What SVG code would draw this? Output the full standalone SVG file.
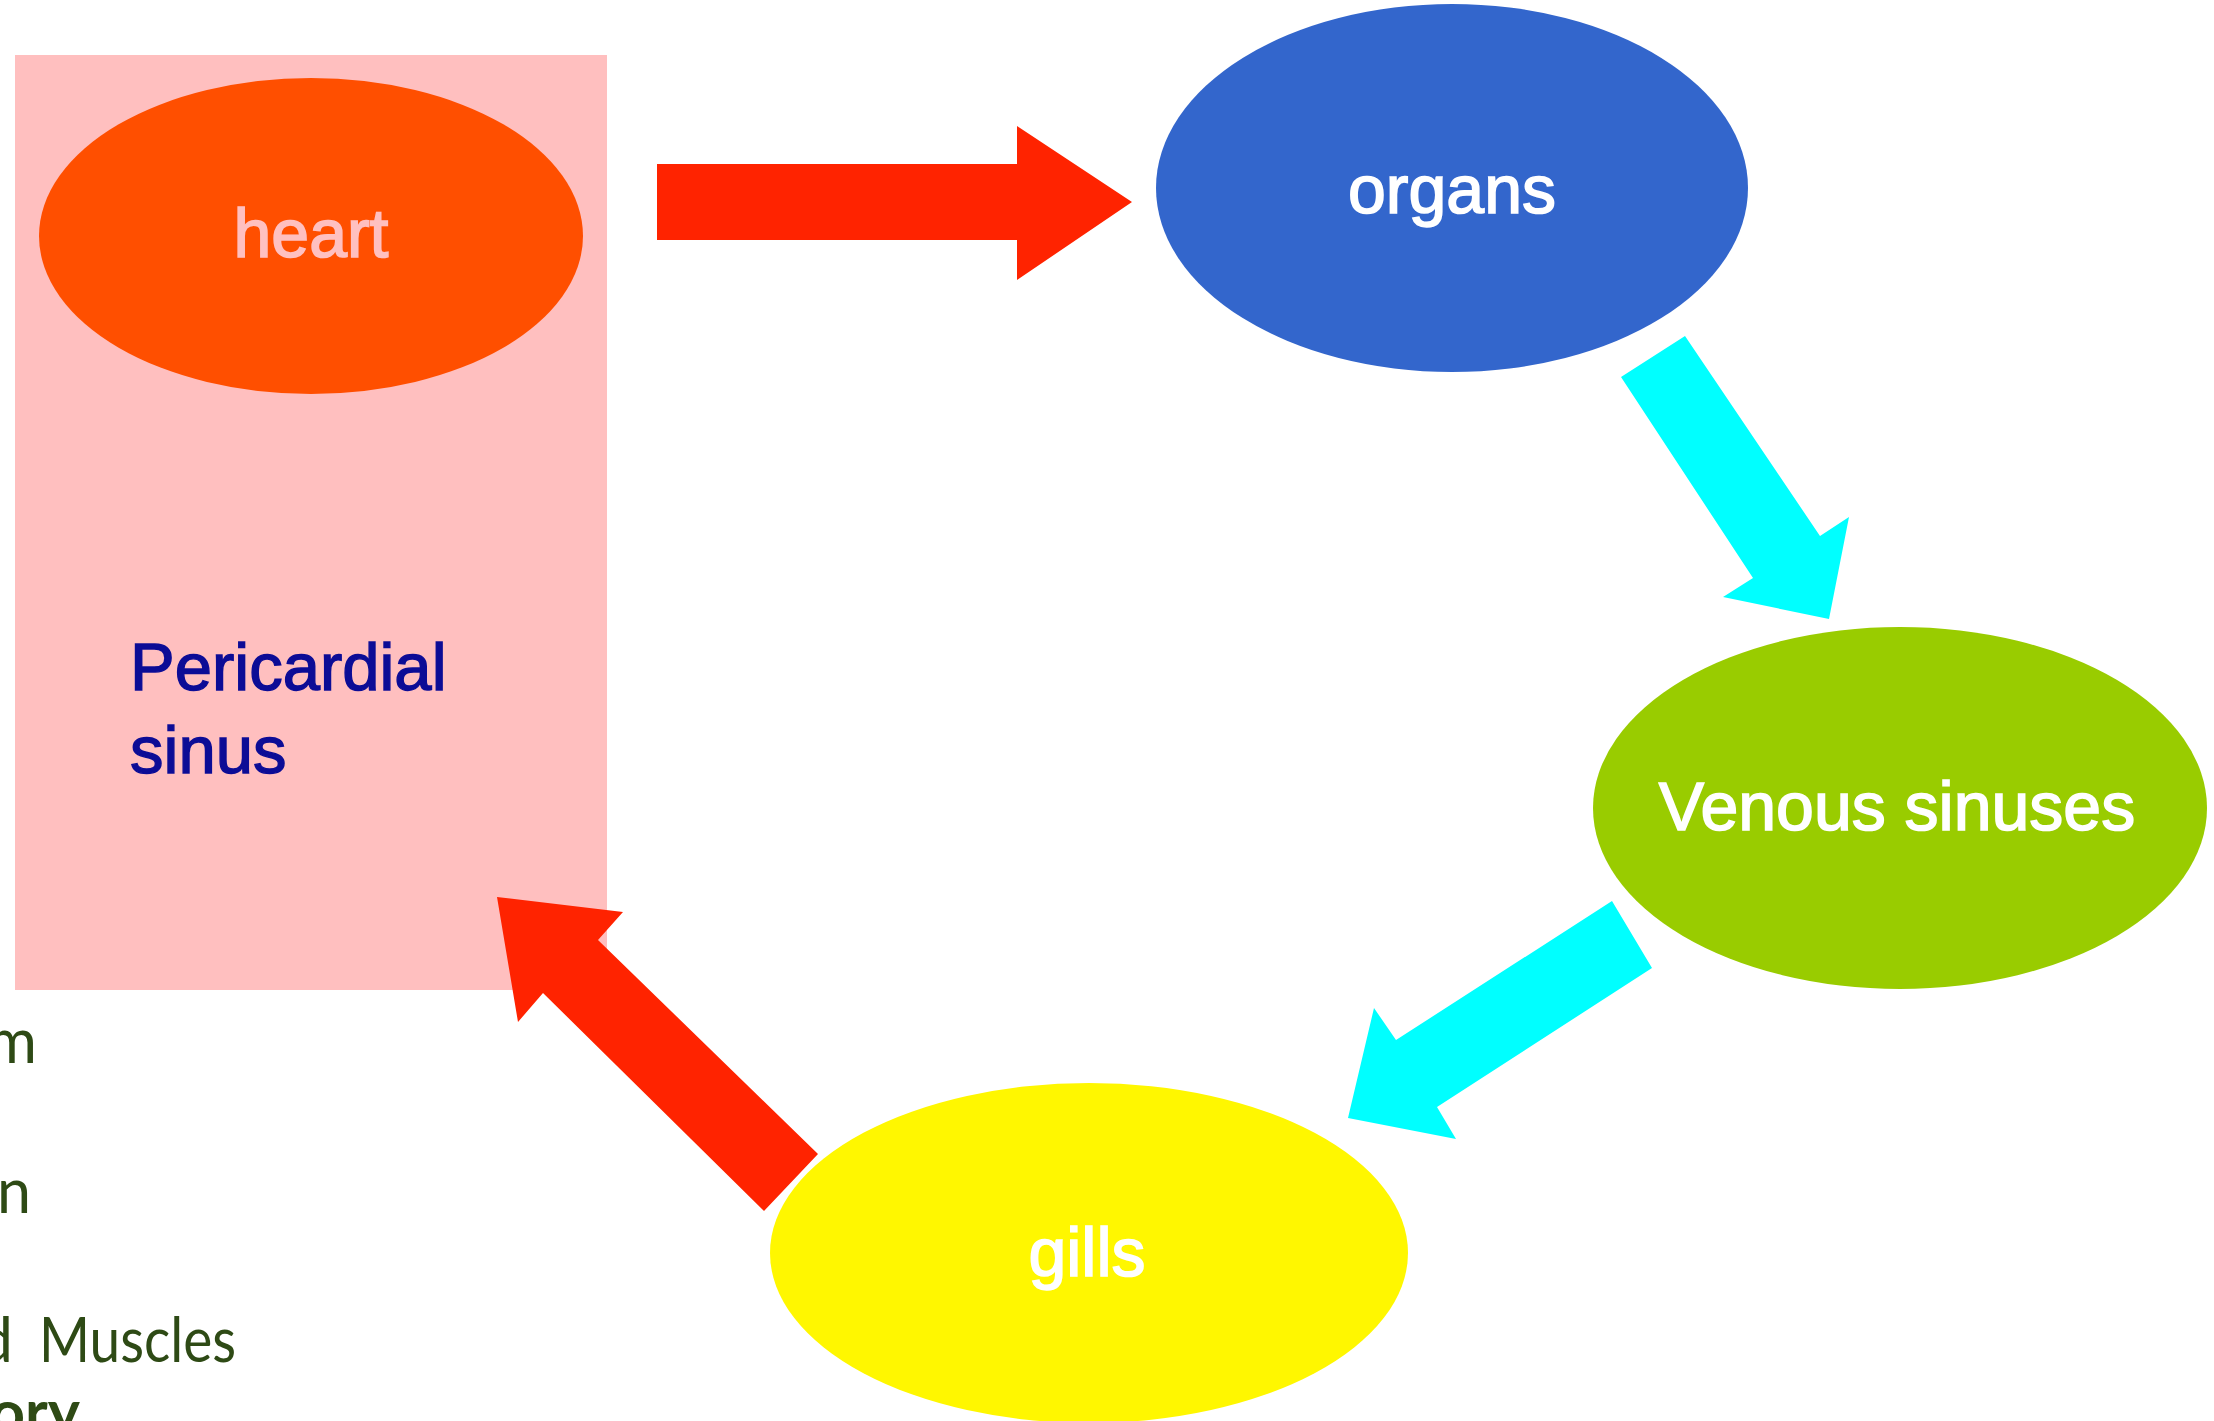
<svg xmlns="http://www.w3.org/2000/svg" width="2214" height="1421" viewBox="0 0 2214 1421">
  <style>
    .lbl { font-family: "Liberation Sans", Arial, Helvetica, sans-serif; font-size: 68px; text-anchor: middle; stroke-width: 1.6px; }
    .white { fill: #FFFFFF; stroke: #FFFFFF; }
    .side { font-family: Lato, "Open Sans", "Liberation Sans", sans-serif; font-size: 61px; fill: #2E4A15; }
    .red { fill: #FF2300; }
    .cyan { fill: #00FFFF; }
  </style>
  <rect width="2214" height="1421" fill="#FFFFFF"/>

  <g id="background-text">
    <text class="side" x="37" y="1063" text-anchor="end">m</text>
    <text class="side" x="31" y="1213" text-anchor="end">n</text>
    <text class="side" y="1362"><tspan x="13" text-anchor="end">d</tspan><tspan x="39" textLength="197" lengthAdjust="spacingAndGlyphs">Muscles</tspan></text>
    <text class="side" x="-10" y="1434" font-weight="bold">ory</text>
  </g>

  <g id="pericardial-sinus">
    <rect x="15" y="55" width="592" height="935" fill="#FFBFBF"/>
    <text font-family="'Liberation Sans', Arial, Helvetica, sans-serif" font-size="67" fill="#0C0C96" stroke="#0C0C96" stroke-width="1.4">
      <tspan x="130" y="690">Pericardial</tspan>
      <tspan x="130" y="773">sinus</tspan>
    </text>
  </g>

  <g id="connectors">
    <polygon class="red" points="657,164 1017,164 1017,126 1132,202 1017,280 1017,240 657,240"/>
    <polygon class="cyan" points="1685,336 1820,536 1849,517 1829,619 1723,597 1753,578 1621,377"/>
    <polygon class="cyan" points="1612,901 1396,1040 1374,1008 1348,1118 1456,1139 1437,1107 1652,968"/>
    <polygon class="red" points="818,1154 598,940 623,912 497,897 518,1022 543,993 764,1211"/>
  </g>

  <g id="heart">
    <ellipse cx="311" cy="236" rx="272" ry="158" fill="#FF4F00"/>
    <text class="lbl" x="311" y="257" fill="#FFC0C0" stroke="#FFC0C0">heart</text>
  </g>

  <g id="organs">
    <ellipse cx="1452" cy="188" rx="296" ry="184" fill="#3366CC"/>
    <text class="lbl white" x="1452" y="213">organs</text>
  </g>

  <g id="venous-sinuses">
    <ellipse cx="1900" cy="808" rx="307" ry="181" fill="#99CC00"/>
    <text class="lbl white" x="1897" y="830">Venous sinuses</text>
  </g>

  <g id="gills">
    <ellipse cx="1089" cy="1253" rx="319" ry="170" fill="#FFF700"/>
    <text class="lbl white" x="1087" y="1276">gills</text>
  </g>
</svg>
